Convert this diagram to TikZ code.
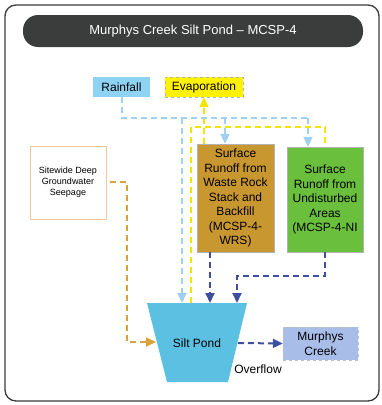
\documentclass[tikz,border=0pt]{standalone}
\usepackage{fontspec}
\setmainfont{Liberation Sans}
\usetikzlibrary{arrows.meta,calc}
\definecolor{framecol}{HTML}{3A3A3A}
\definecolor{titlecol}{HTML}{3B3D3C}
\definecolor{rainfill}{HTML}{8FD3F4}
\definecolor{evapfill}{HTML}{FFF200}
\definecolor{brownfill}{HTML}{C9972F}
\definecolor{greenfill}{HTML}{6ABF3C}
\definecolor{pondfill}{HTML}{5CC0E3}
\definecolor{creekfill}{HTML}{A9BDE9}
\definecolor{navyline}{HTML}{3C4FA0}
\definecolor{lblueline}{HTML}{9FD0F2}
\definecolor{yellowline}{HTML}{F2E600}
\definecolor{orangeline}{HTML}{DBA23A}
\definecolor{seepborder}{HTML}{F0C8A0}
\tikzset{
  txt/.style={font=\fontsize{12}{14.5}\selectfont, align=center, inner sep=0pt},
  boxnode/.style={txt, draw=gray!60, line width=0.4pt},
  flow/.style={line width=2pt, dash pattern=on 6pt off 4pt},
  tip/.style={-{Triangle[width=9pt,length=10pt]}},
}
\begin{document}
\begin{tikzpicture}[x=1pt,y=-1pt]
\useasboundingbox (0,0) rectangle (382,405);
% frame
\draw[framecol, line width=1.3pt, rounded corners=11pt] (5,5) rectangle (379,401);
% title
\node[fill=titlecol, rounded corners=15pt, minimum width=340pt, minimum height=32pt,
      text=white, font=\fontsize{13}{15}\selectfont, inner sep=0pt] (title) at (193,31)
      {Murphys Creek Silt Pond -- MCSP-4};
% top boxes
\node[boxnode, fill=rainfill, draw=none, minimum width=57pt, minimum height=20pt] (rain) at (121.5,87) {Rainfall};
\node[boxnode, fill=evapfill, dashed, minimum width=78pt, minimum height=20pt] (evap) at (204,87) {Evaporation};
% runoff boxes
\node[boxnode, fill=brownfill, minimum width=77pt, minimum height=108pt] (wrs) at (235.5,198)
  {Surface\\Runoff from\\Waste Rock\\Stack and\\Backfill\\(MCSP-4-\\WRS)};
\node[boxnode, fill=greenfill, minimum width=76pt, minimum height=105pt] (ni) at (325,199.5)
  {Surface\\Runoff from\\Undisturbed\\Areas\\(MCSP-4-NI};
% seepage
\node[txt, draw=seepborder, line width=0.8pt, fill=white, minimum width=76pt, minimum height=73pt,
      font=\fontsize{9}{11}\selectfont] (seep) at (68,182.5)
  {Sitewide Deep\\Groundwater\\Seepage};
% pond
\coordinate (pTL) at (147,303);
\coordinate (pTR) at (247,303);
\coordinate (pBR) at (228,382);
\coordinate (pBL) at (167,382);
\fill[pondfill] (pTL) -- (pTR) -- (pBR) -- (pBL) -- cycle;
\node[txt] (pond) at (197,343) {Silt Pond};
% creek
\node[boxnode, fill=creekfill, dashed, draw=gray!50, minimum width=75pt, minimum height=33pt] (creek) at (320.5,343.5)
  {Murphys\\Creek};
\node[txt] (overflow) at (258,369) {Overflow};
% junction coordinates
\coordinate (rj) at (122,118);
\coordinate (rr) at (308,118);
\coordinate (rb) at (225,118);
\coordinate (rp) at (182,118);
\coordinate (rpEnd) at (182,303);
\coordinate (yp) at (191,303);
\coordinate (yl) at (191,127);
\coordinate (yr) at (325,127);
\coordinate (nb1) at (210,303);
\coordinate (nj) at (325,276);
\coordinate (nk) at (237,276);
\coordinate (nb2) at (237,303);
\coordinate (ovS) at (238,343);
\coordinate (oS) at (110,182);
\coordinate (oj) at (127,182);
\coordinate (ok) at (127,342);
\coordinate (oE) at (156,342);
% yellow evaporation
\draw[flow, yellowline] (yp) -- (yl) -- (yr) -- (yr |- ni.north);
\draw[flow, yellowline, tip] (evap.south |- wrs.north) -- (evap.south);
% rainfall
\draw[flow, lblueline] (rain.south) |- (rr);
\draw[flow, lblueline, tip] (rb) -- (rb |- wrs.north);
\draw[flow, lblueline, tip] (rr) -- (rr |- ni.north);
\draw[flow, lblueline, tip] (rp) -- (rpEnd);
% runoff to pond
\draw[flow, navyline, tip] (nb1 |- wrs.south) -- (nb1);
\draw[flow, navyline, tip] (nj |- ni.south) -- (nj) -- (nk) -- (nb2);
% overflow
\draw[flow, navyline, tip] (ovS) -- (creek.west);
% seepage
\draw[flow, orangeline, tip] (oS) -- (oj) -- (ok) -- (oE);
\end{tikzpicture}
\end{document}
